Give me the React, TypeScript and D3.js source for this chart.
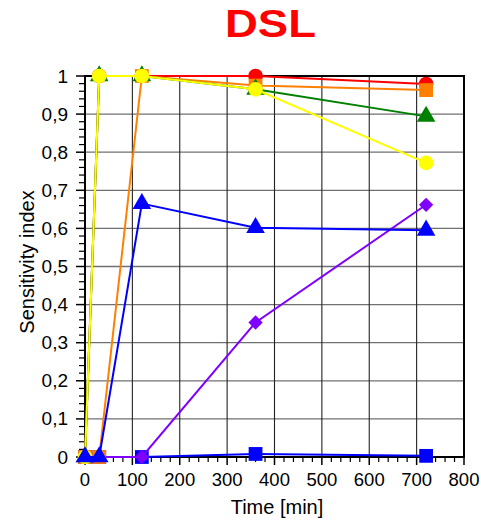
import React from "react";
import * as d3 from "d3";

// Time points in minutes
const times = [0, 30, 120, 360, 720];

// Sensitivity index per series
const blueSquares = [0, 0, 0, 0.008, 0.003];
const purpleDiamonds = [0, 0, 0, 0.353, 0.662];
const redCircles = [0, 1, 1, 1, 0.979];
const orangeSquares = [0, 0, 1, 0.975, 0.963];
const greenTriangles = [0, 1, 1, 0.965, 0.894];
const yellowCircles = [0, 1, 1, 0.965, 0.772];
const blueTriangles = [0, 0, 0.665, 0.602, 0.595];

const xTicks = [0, 100, 200, 300, 400, 500, 600, 700, 800];
const yTicks = [0, 0.1, 0.2, 0.3, 0.4, 0.5, 0.6, 0.7, 0.8, 0.9, 1];

type Series = { values: number[]; color: string; shape: string };

const series: Series[] = [
  { values: blueSquares, color: "#0000ff", shape: "square" },
  { values: purpleDiamonds, color: "#8000ff", shape: "diamond" },
  { values: redCircles, color: "#ff0000", shape: "circle" },
  { values: orangeSquares, color: "#ff8000", shape: "square" },
  { values: greenTriangles, color: "#008000", shape: "triangle" },
  { values: yellowCircles, color: "#ffff00", shape: "circle" },
  { values: blueTriangles, color: "#0000ff", shape: "triangle" },
];

const W = 481;
const H = 526;
const left = 85;
const right = 464;
const top = 76;
const bottom = 457;
const font = "'Liberation Sans', Arial, Helvetica, sans-serif";

function symbolPath(shape: string): string {
  const s =
    shape === "square"
      ? d3.symbol(d3.symbolSquare, 190)
      : shape === "diamond"
      ? d3.symbol(d3.symbolDiamond2, 130)
      : shape === "triangle"
      ? d3.symbol(d3.symbolTriangle, 150)
      : d3.symbol(d3.symbolCircle, 170);
  return s() as string;
}

export default function App() {
  const x = d3.scaleLinear().domain([0, 800]).range([left, right]);
  const y = d3.scaleLinear().domain([0, 1]).range([bottom, top]);
  const line = d3
    .line<number>()
    .x((_, i) => x(times[i]))
    .y((v) => y(v));

  const xMinor = d3.range(0, 801, 20).filter((v) => v % 100 !== 0);
  const yMinor = d3.range(0, 51, 1).map((v) => v / 50).filter((_, i) => i % 5 !== 0);

  return (
    <svg
      width={W}
      height={H}
      style={{ position: "absolute", left: 0, top: 0, background: "#fff" }}
      fontFamily={font}
    >
      {/* grid */}
      {yTicks.map((t) => (
        <line key={"gy" + t} x1={left} x2={right} y1={y(t)} y2={y(t)} stroke="#707070" strokeWidth={1.3} />
      ))}
      {xTicks.map((t) => (
        <line key={"gx" + t} x1={x(t)} x2={x(t)} y1={top} y2={bottom} stroke="#222" strokeWidth={1.1} />
      ))}

      {/* frame */}
      <rect x={left} y={top} width={right - left} height={bottom - top} fill="none" stroke="#000" strokeWidth={2} />

      {/* ticks */}
      {xTicks.map((t) => (
        <line key={"tx" + t} x1={x(t)} x2={x(t)} y1={bottom} y2={bottom + 8} stroke="#000" strokeWidth={1.5} />
      ))}
      {xMinor.map((t) => (
        <line key={"mx" + t} x1={x(t)} x2={x(t)} y1={bottom} y2={bottom + 5} stroke="#000" strokeWidth={1.2} />
      ))}
      {yTicks.map((t) => (
        <line key={"ty" + t} x1={left - 9} x2={left} y1={y(t)} y2={y(t)} stroke="#000" strokeWidth={1.5} />
      ))}
      {yMinor.map((t) => (
        <line key={"my" + t} x1={left - 6} x2={left} y1={y(t)} y2={y(t)} stroke="#000" strokeWidth={1.2} />
      ))}

      {/* tick labels */}
      {xTicks.map((t) => (
        <text key={"lx" + t} x={x(t)} y={bottom + 29} fontSize={18.5} textAnchor="middle" fill="#000">
          {t}
        </text>
      ))}
      {yTicks.map((t) => (
        <text key={"ly" + t} x={left - 17} y={y(t) + 6.5} fontSize={19} textAnchor="end" fill="#000">
          {String(Math.round(t * 10) / 10).replace(".", ",")}
        </text>
      ))}

      {/* series */}
      {series.map((s, si) => (
        <g key={"s" + si}>
          <path d={line(s.values) as string} fill="none" stroke={s.color} strokeWidth={2} />
          {s.values.map((v, i) => (
            <path
              key={i}
              d={symbolPath(s.shape)}
              transform={`translate(${x(times[i])},${y(v)})`}
              fill={s.color}
            />
          ))}
        </g>
      ))}

      {/* titles */}
      <text
        x={225}
        y={37}
        fontSize={39}
        fontWeight="bold"
        textLength={91}
        lengthAdjust="spacingAndGlyphs"
        fill="#ff0000"
      >
        DSL
      </text>
      <text x={277} y={514} fontSize={20} textAnchor="middle" fill="#000">
        Time [min]
      </text>
      <text
        transform={`translate(34,262) rotate(-90)`}
        fontSize={20}
        textAnchor="middle"
        fill="#000"
      >
        Sensitivity index
      </text>
    </svg>
  );
}
